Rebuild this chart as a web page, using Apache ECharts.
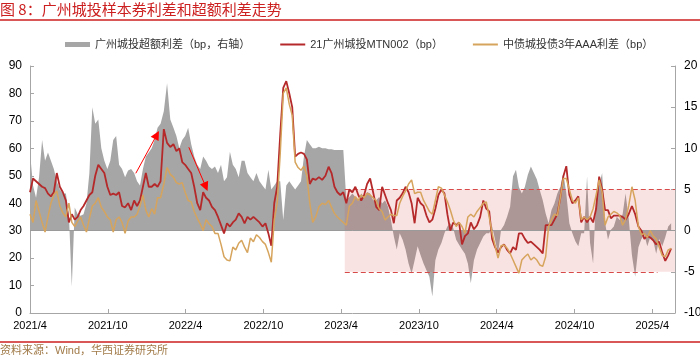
<!DOCTYPE html>
<html><head><meta charset="utf-8">
<script src="https://cdn.jsdelivr.net/npm/echarts@6/dist/echarts.min.js"></script>
<style>html,body{margin:0;padding:0;background:#fff}#c{width:700px;height:360px}</style>
</head><body><div id="c"></div>
<script>
// x-axis tick labels (every 6 months from 2021/4)
const tickLabels = ['2021/4','2021/10','2022/4','2022/10','2023/4','2023/10','2024/4','2024/10','2025/4'];
// weekly observations starting 2021-04-01
const startYear = 2021, startMonth = 4, startDay = 1, stepDays = 7;

// 广州城投超额利差 (bp, right axis)
const excessSpread = [
 9.5,5.5,4,6.5,11,8.5,9.5,8.5,7.5,6,
 5,4.5,4.5,2,-6.8,2.8,2,1.8,2,3.3,
 7,15,13,13.5,10,8.5,7.5,8.5,11,11.5,
 8,7.5,6.5,7.3,7.5,7,6,5.5,7.5,9,
 9.5,10,11,12.5,13,14.5,17.9,13.5,12.5,11.5,
 10,11,11.5,12.5,10.5,9,8,7.5,9,8.5,
 7.8,7.5,7.8,7,8,6,6.5,9.6,8,7.5,
 6.5,8.5,8.5,7,6.5,6,7,6,5.5,5,
 7.4,5,5.5,6,6,1.3,5.5,6,5.5,5,
 5.5,6,9,11,10.5,10,10,10.2,10,10,
 9.9,9.9,9.8,9.8,9.8,9.8,3.7,4.1,4.5,4.1,
 3.7,4.5,4.1,4.7,4.5,3.7,3.7,4.1,3.3,3.7,
 2.9,1.3,-0.7,-2.3,-0.3,-1.1,-2.3,-4,-5.2,-3.6,
 -1.9,-3,-4,-4.8,-5.6,-8,-3.6,-2.3,-1.5,-0.3,
 0.5,0.9,0.3,-1.1,-1.7,-2.3,-2.8,-4,-6.4,-3.6,
 -2.3,-1.5,-0.7,-0.3,-0.3,0.5,-1.1,-2.8,0.1,0.7,
 1.7,2.9,6.6,7.4,5.3,4.5,5.3,6.8,7.8,7,
 6.2,4.9,3.7,2.1,0.9,2.5,3.3,4.5,5.3,7,
 4.5,0.9,-0.3,-1.3,-1.9,-0.3,-0.3,6.6,-1.5,-4,
 4.5,5.5,7,1,-1.1,0.1,0.5,1.7,1.3,2,
 4.5,1.5,-3,-5.6,-2,-1,-0.5,-1.9,-0.8,-1.2,
 -2.8,-1,-1.9,-0.8,0.5,0.9
];
// 21广州城投MTN002 (bp)
const mtn002Spread = [
 44,49,48,47,46,45.5,43.5,42.5,44,51,
 46,44,41,33,36,34,35,37.5,39,41,
 43,44,50,54,52.5,51,46,43,43.5,43,
 44,39,38.5,40,37.5,41,39,41,46,51,
 46,46,47,46,48,67,62,60.5,61.5,59,
 60,55,54,52.5,51,46,40,37.5,44,42,
 41,38.7,37.5,35,32,29,32.7,31.5,33,34,
 36.3,35,32.7,35,34,35,34,33,31.5,32.7,
 29,24.5,40,46,65,82,84.5,80,75,57,
 58,58.5,58,56,47,49,48.5,49.5,48.5,50,
 53.3,51,46,44,43,44,40,45,44,46,
 43,41,43,47,49,44,38.7,37.5,46,43,
 40,37.5,32.7,41,42,43.6,46,44,40,32.7,
 42,40,39,35.5,33,34,38,43,45,43.6,
 36,30,33,32,33,25,28,29,33,30.5,
 32,35,41,38,37,27,24,22,24,25,
 23,21.7,24,23,29,29,27,25.5,26,25,
 24,23,21.7,32,32,32,34,36,42,49.7,
 53.5,43,40,41,42.5,33,35,33,35,33,
 38,49.7,45,37.5,37.5,34.5,35.5,35.5,35.5,35,
 34,36,39,36,31.5,30,27,28,27.5,26.5,
 25,26,22,19,21,23.5
];
// 中债城投债3年AAA利差 (bp)
const aaa3ySpread = [
 36,33,41,37,33,29.5,35,40,43,44.5,
 39,36.5,35,40,33,31.5,33.5,35,32,29.5,
 34.5,39,40,42,38.5,37,35,34,29.5,34,
 35,33,29,33.5,35,35,36,39,43,37.5,
 35,38,36,42,42,47,53,50.5,49.5,47.5,
 47,47.5,44,41,40.5,37,34.5,32.5,30,34,
 32.5,31.5,29,29,25,20.5,19.3,19,24,23,
 25.4,26.5,24,22,27.3,26,28.5,27.5,26,25,
 22,18.5,33.9,40,58,80,82,76,72,55,
 53,52,53.5,50,40,33,35,38.7,40,39.5,
 41,38.5,36.3,35,34,33,32,39,40,42.4,
 41,43,42,43.6,43,42,41,38,37,33.9,
 35,36,35.5,35.5,40,42.5,44.5,47,48.5,43.5,
 44,44,41,39,37,36,41,46,45.5,43,
 40.5,37.5,34,31.5,33,31.5,29,35,36,35,
 37,38.5,40,40.5,35,29,24.5,20,24.5,24.8,
 23.6,21.7,19.3,16.9,14.5,19.3,20.5,21.5,19.3,20.3,
 19.3,17.5,17,20.5,31.5,34,36,35.5,42,49,
 49,45,41,40,42,34,35,34,35,38,
 43,48.5,44,32,35,36,37,36.5,35.5,32,
 34,39,46,41,31.5,28.5,29,27.5,30,28,
 27,24,21,20.5,23,23.5
];

// month index (months since 2021/4) of each weekly observation
function monthIndex(i) {
  const d = new Date(Date.UTC(startYear, startMonth - 1, startDay) + i * stepDays * 86400000);
  const y = d.getUTCFullYear(), m = d.getUTCMonth(), day = d.getUTCDate();
  const dim = new Date(Date.UTC(y, m + 1, 0)).getUTCDate();
  return (y - startYear) * 12 + (m - (startMonth - 1)) + (day - 1) / dim;
}
const toPairs = arr => arr.map((v, i) => [monthIndex(i), v]);

const FONT = "'Liberation Sans', Arial, 'Noto Sans CJK SC', sans-serif";
const chart = echarts.init(document.getElementById('c'), null, {renderer: 'canvas'});
chart.setOption({
  animation: false,
  backgroundColor: '#fff',
  textStyle: {fontFamily: FONT},
  title: {
    text: '图 8：广州城投样本券利差和超额利差走势',
    left: 0, top: 2, padding: 0,
    textStyle: {color: '#cc1f1f', fontSize: 15, fontWeight: 'normal', fontFamily: "'Noto Sans CJK SC', sans-serif"}
  },
  graphic: [
    {type: 'line', shape: {x1: 0, y1: 20, x2: 700, y2: 20}, style: {stroke: '#cc1f1f', lineWidth: 1.5}},
    {type: 'line', shape: {x1: 0, y1: 342, x2: 700, y2: 342}, style: {stroke: '#cc1f1f', lineWidth: 1.5}},
    {type: 'text', left: 0, top: 345, style: {text: '资料来源：Wind，华西证券研究所', fill: '#a07a48', font: "11px 'Liberation Sans', 'Noto Sans CJK SC', sans-serif"}}
  ],
  legend: {
    top: 34, left: 60, itemGap: 30, itemWidth: 25, itemHeight: 6,
    textStyle: {fontSize: 11, color: '#333', fontFamily: FONT},
    data: [
      {name: '广州城投超额利差（bp，右轴）', icon: 'path://M0,0H25V5H0Z'},
      {name: '21广州城投MTN002（bp）', icon: 'path://M0,0H25V2H0Z'},
      {name: '中债城投债3年AAA利差（bp）', icon: 'path://M0,0H25V2H0Z'}
    ]
  },
  grid: {left: 30, right: 25, top: 66, bottom: 47, containLabel: false, outerBoundsMode: 'none'},
  xAxis: {
    type: 'value', min: 0, max: 49.75, interval: 6,
    axisLine: {show: true, lineStyle: {color: '#a6a6a6'}},
    axisTick: {show: true, inside: true, length: 4, lineStyle: {color: '#a6a6a6'}},
    splitLine: {show: false},
    axisLabel: {
      color: '#000', fontSize: 11, margin: 7, showMaxLabel: false,
      formatter: v => tickLabels[Math.round(v / 6)] || ''
    }
  },
  yAxis: [
    {
      type: 'value', min: 0, max: 90, interval: 10, position: 'left',
      axisLine: {show: true, lineStyle: {color: '#a6a6a6'}},
      axisTick: {show: true, inside: true, length: 4, lineStyle: {color: '#a6a6a6'}},
      splitLine: {show: false},
      axisLabel: {color: '#000', fontSize: 12, margin: 8}
    },
    {
      type: 'value', min: -10, max: 20, interval: 5, position: 'right',
      axisLine: {show: true, lineStyle: {color: '#a6a6a6'}},
      axisTick: {show: true, inside: true, length: 4, lineStyle: {color: '#a6a6a6'}},
      splitLine: {show: false},
      axisLabel: {color: '#000', fontSize: 12, margin: 9}
    }
  ],
  series: [
    {
      name: '广州城投超额利差（bp，右轴）', type: 'line', yAxisIndex: 1,
      data: toPairs(excessSpread), symbol: 'none', z: 2,
      lineStyle: {width: 0}, itemStyle: {color: '#a6a6a6'},
      areaStyle: {color: '#a6a6a6', opacity: 1},
      markArea: {
        silent: true, z: 3,
        itemStyle: {color: 'rgba(215,60,60,0.15)'},
        data: [[{coord: [24.28, -5]}, {coord: [49.75, 5]}]]
      },
      markLine: {
        silent: true, z: 3, symbol: 'none', label: {show: false},
        data: [
          {yAxis: 0, lineStyle: {color: '#9a9a9a', type: 'solid', width: 1}},
          [{coord: [24.28, 5], lineStyle: {color: '#d84a4a', type: [5, 3], width: 1}}, {coord: [49.75, 5]}],
          [{coord: [24.28, -5], lineStyle: {color: '#d84a4a', type: [5, 3], width: 1}}, {coord: [48.4, -5]}]
        ]
      }
    },
    {
      name: '21广州城投MTN002（bp）', type: 'line', yAxisIndex: 0,
      data: toPairs(mtn002Spread), symbol: 'none', z: 4,
      lineStyle: {color: '#b5292a', width: 1.8}, itemStyle: {color: '#b5292a'},
      markLine: {
        silent: true, z: 5, symbol: ['none', 'triangle'], symbolSize: 9,
        label: {show: false},
        lineStyle: {color: '#ff0000', type: 'solid', width: 1},
        data: [
          [{coord: [8.16, 50.9]}, {coord: [9.78, 64.9]}],
          [{coord: [12.25, 60.4]}, {coord: [13.56, 46.0]}]
        ]
      }
    },
    {
      name: '中债城投债3年AAA利差（bp）', type: 'line', yAxisIndex: 0,
      data: toPairs(aaa3ySpread), symbol: 'none', z: 4,
      lineStyle: {color: '#d6a45c', width: 1.5}, itemStyle: {color: '#d6a45c'}
    }
  ]
});
</script></body></html>
